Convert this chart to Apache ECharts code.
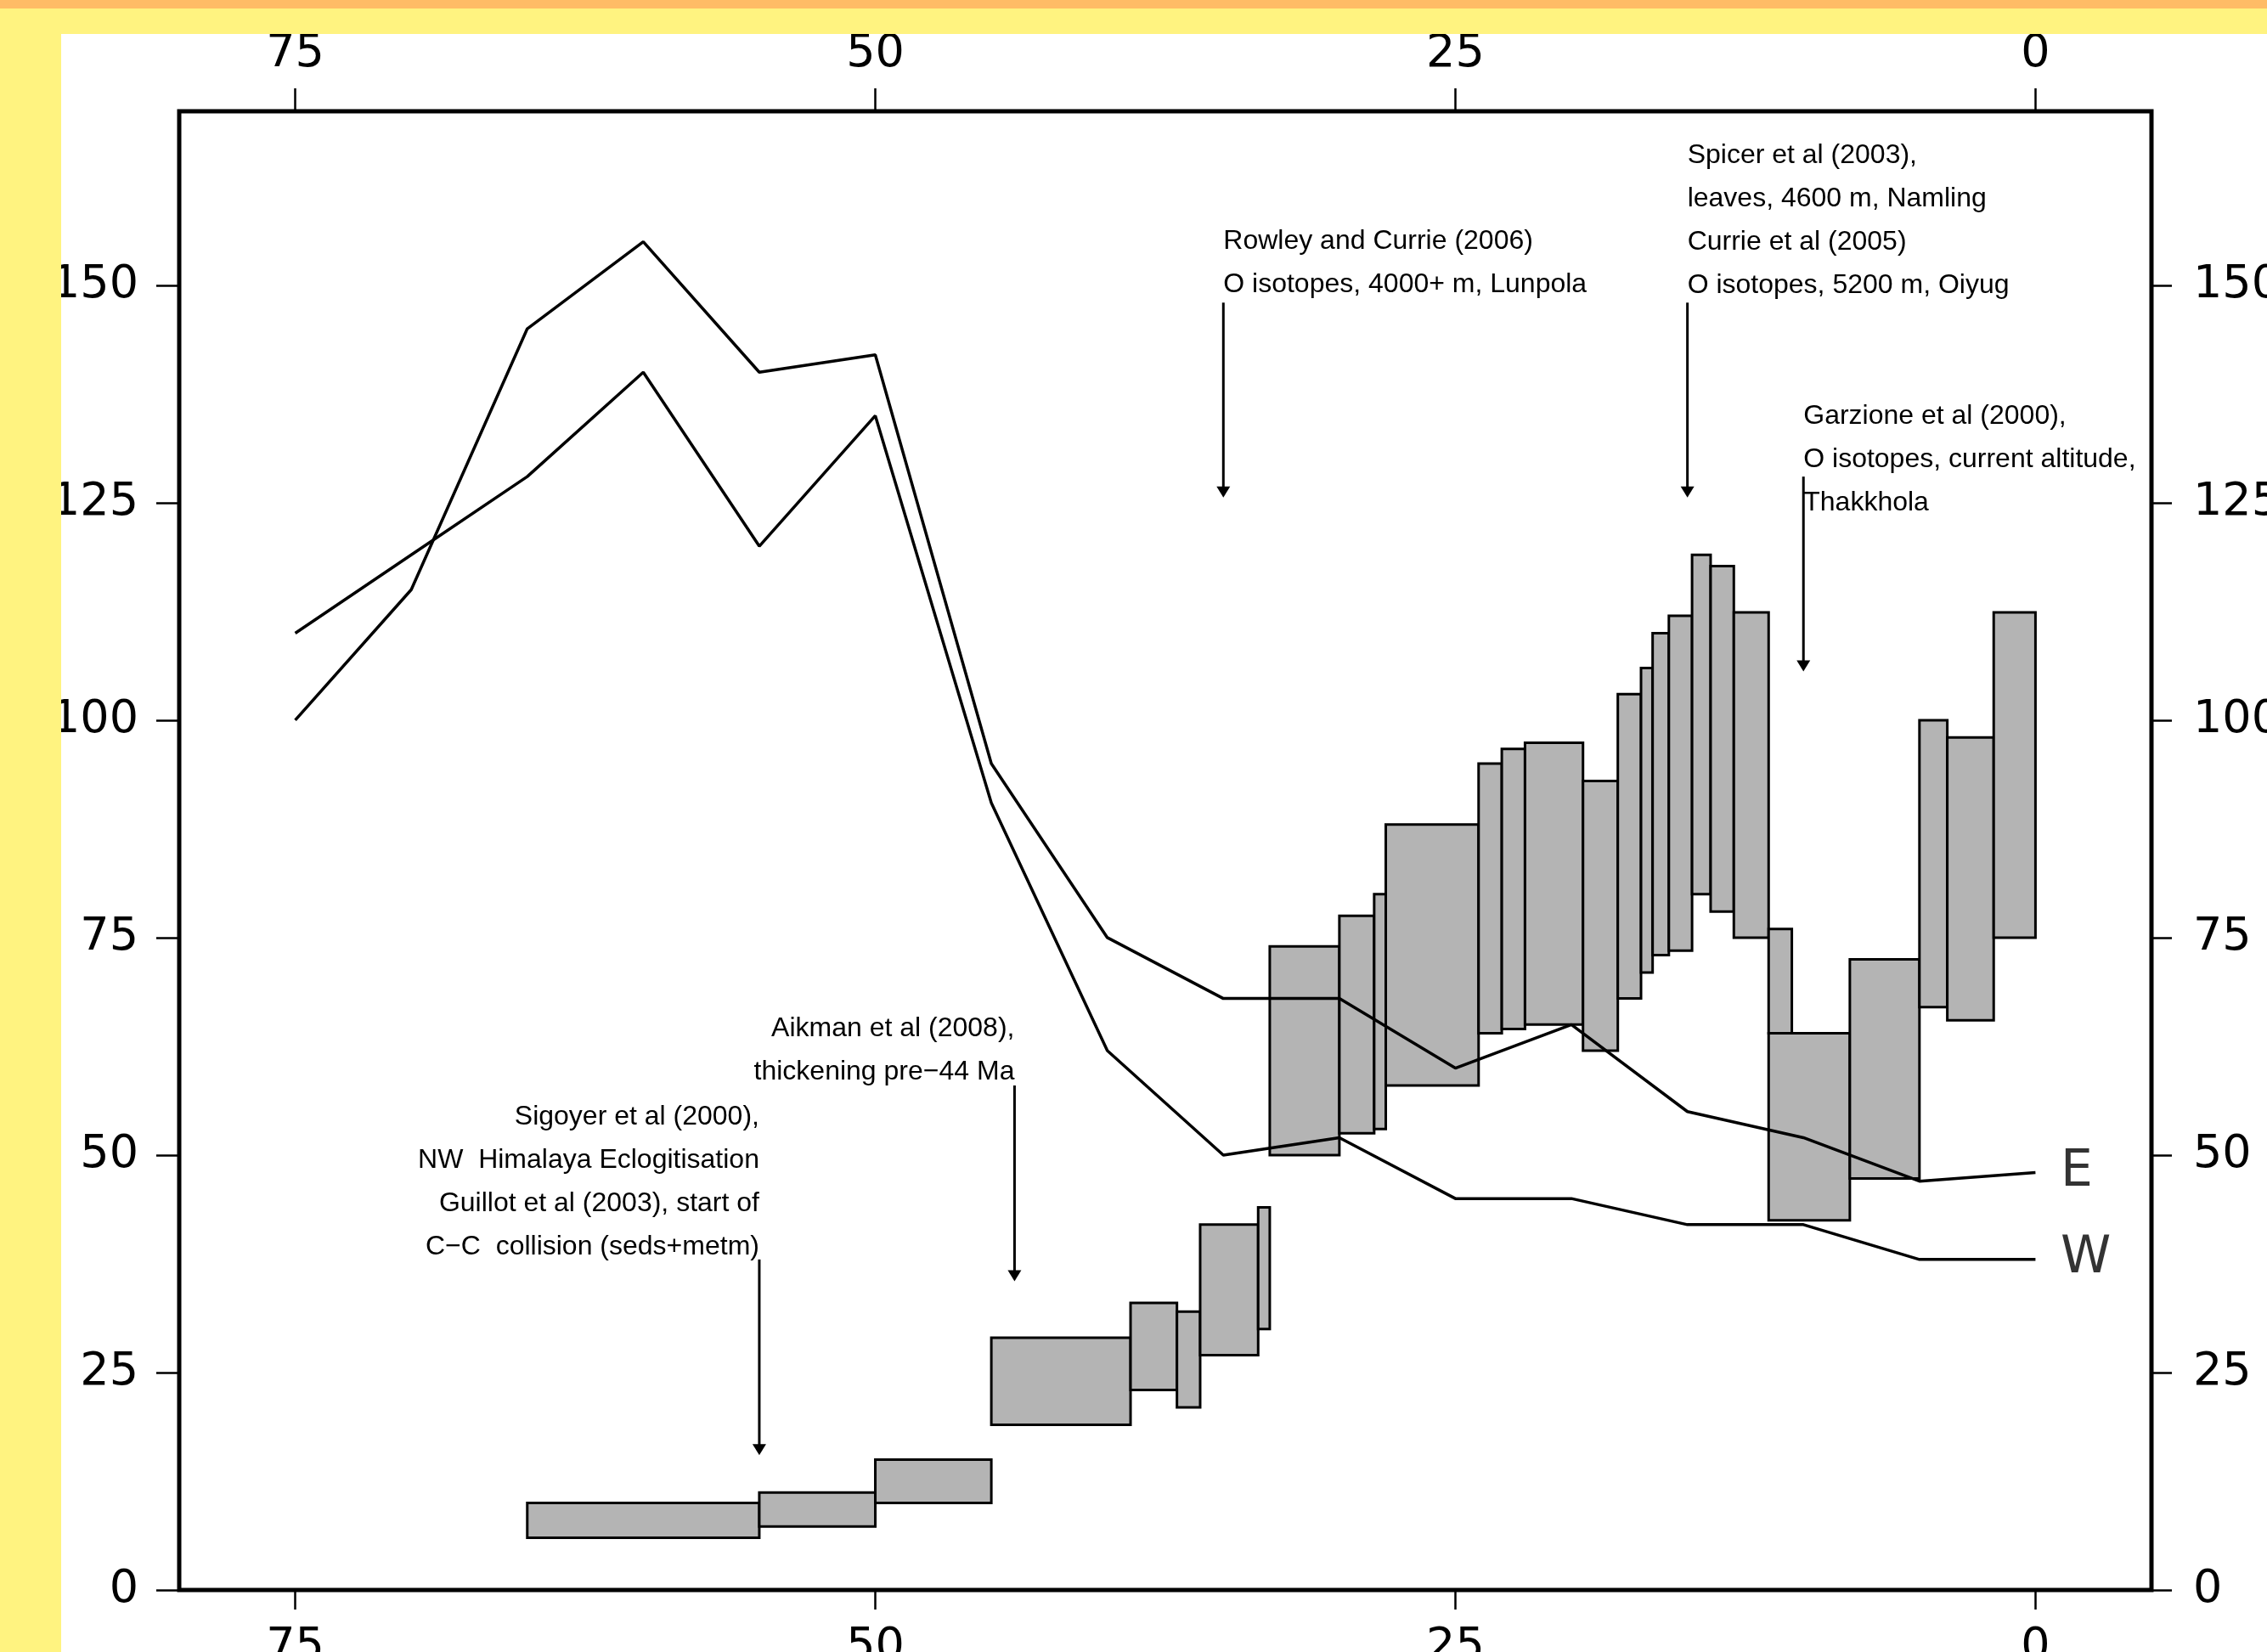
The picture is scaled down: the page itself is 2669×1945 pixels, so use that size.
<!DOCTYPE html>
<html><head><meta charset="utf-8">
<script src="https://cdn.jsdelivr.net/npm/echarts@6/dist/echarts.min.js"></script>
<style>html,body{margin:0;padding:0;background:#fff;overflow:hidden}#c{position:fixed;left:0;top:0;width:2669px;height:1945px}</style>
</head><body><div id="c"></div>
<script>
// ---- data ----
const ageTicks = [0, 25, 50, 75];
const heightTicks = [0, 25, 50, 75, 100, 125, 150];
const lineAges = [75, 70, 65, 60, 55, 50, 45, 40, 35, 30, 25, 20, 15, 10, 5, 0];
const eastValues = [100, 115, 145, 155, 140, 142, 95, 75, 68, 68, 60, 65, 55, 52, 47, 48];
const westValues = [110, 119, 128, 140, 120, 135, 90.5, 62, 50, 52, 45, 45, 42, 42, 38, 38];
const lineNames = ['E', 'W'];
// boxes: [older age, younger age, low, high]
const boxes = [
  [65, 55, 6, 10], [55, 50, 7.3, 11.2], [50, 45, 10, 15], [45, 39, 19, 29],
  [39, 37, 23, 33], [37, 36, 21, 32], [36, 33.5, 27, 42], [33.5, 33, 30, 44],
  [33, 30, 50, 74], [30, 28.5, 52.5, 77.5], [28.5, 28, 53, 80], [28, 24, 58, 88],
  [24, 23, 64, 95], [23, 22, 64.5, 96.7], [22, 19.5, 65, 97.4], [19.5, 18, 62, 93],
  [18, 17, 68, 103], [17, 16.5, 71, 106], [16.5, 15.8, 73, 110], [15.8, 14.8, 73.5, 112],
  [14.8, 14, 80, 119], [14, 13, 78, 117.7], [13, 11.5, 75, 112.4], [11.5, 10.5, 64, 76],
  [11.5, 8, 42.5, 64], [8, 5, 47.3, 72.5], [5, 3.8, 67, 100], [3.8, 1.8, 65.5, 98],
  [1.8, 0, 75, 112.4]
];
// arrows: age, from, to
const arrowAge = [55, 44, 35, 15, 10];
const arrowFrom = [38, 58, 148, 148, 128];
const arrowTo = [15.5, 35.5, 125.6, 125.6, 105.6];
// notes: anchor age, first-line height, alignment, text lines
const noteAge = [55, 44, 35, 15, 10];
const noteTop = [54.4, 64.5, 155, 164.9, 134.9];
const noteAlign = ['right', 'right', 'left', 'left', 'left'];
const noteLines = [
  ['Sigoyer et al (2000),', 'NW  Himalaya Eclogitisation', 'Guillot et al (2003), start of', 'C\u2212C  collision (seds+metm)'],
  ['Aikman et al (2008),', 'thickening pre\u221244 Ma'],
  ['Rowley and Currie (2006)', 'O isotopes, 4000+ m, Lunpola'],
  ['Spicer et al (2003),', 'leaves, 4600 m, Namling', 'Currie et al (2005)', 'O isotopes, 5200 m, Oiyug'],
  ['Garzione et al (2000),', 'O isotopes, current altitude,', 'Thakkhola']
];

// ---- chart ----
const el = document.getElementById('c');
const chart = echarts.init(el, null, {renderer: 'canvas', width: 2669, height: 1945});
const tickFont = {fontSize: 54, fontFamily: 'DejaVu Sans', color: '#000'};
function xAx(pos, len, margin) {
  return {
    type: 'value', position: pos, min: -5, max: 80, inverse: true,
    axisLine: {show: false, onZero: false},
    axisTick: {show: true, customValues: ageTicks, length: len, lineStyle: {color: '#000', width: 2.5}},
    axisLabel: Object.assign({customValues: ageTicks, margin: margin}, tickFont),
    splitLine: {show: false}
  };
}
function yAx(pos, len, margin) {
  return {
    type: 'value', position: pos, min: 0, max: 170,
    axisLine: {show: false, onZero: false},
    axisTick: {show: true, customValues: heightTicks, length: len, lineStyle: {color: '#000', width: 2.5}},
    axisLabel: Object.assign({customValues: heightTicks, margin: margin}, tickFont),
    splitLine: {show: false}
  };
}
const lastI = lineAges.length - 1;
chart.setOption({
  animation: false,
  backgroundColor: '#ffffff',
  grid: {left: 211, right: 136, top: 131, bottom: 73, containLabel: false, outerBoundsMode: 'none', show: true, borderColor: '#000', borderWidth: 5, backgroundColor: 'transparent'},
  xAxis: [xAx('bottom', 23, 41), xAx('top', 27, 40)],
  yAxis: [yAx('left', 27, 48), yAx('right', 24, 49)],
  series: [
    {
      type: 'custom', name: 'ranges', z: 2,
      data: boxes,
      encode: {x: [0, 1], y: [2, 3]},
      renderItem: function (params, api) {
        const p1 = api.coord([api.value(0), api.value(3)]);
        const p2 = api.coord([api.value(1), api.value(2)]);
        return {
          type: 'rect',
          shape: {x: Math.min(p1[0], p2[0]), y: Math.min(p1[1], p2[1]), width: Math.abs(p2[0] - p1[0]), height: Math.abs(p2[1] - p1[1])},
          style: {fill: '#b4b4b4', stroke: '#000', lineWidth: 3}
        };
      }
    },
    {
      type: 'line', name: 'E', z: 5, symbol: 'none',
      data: lineAges.map((a, i) => [a, eastValues[i]]),
      lineStyle: {color: '#000', width: 3.5}
    },
    {
      type: 'line', name: 'W', z: 5, symbol: 'none',
      data: lineAges.map((a, i) => [a, westValues[i]]),
      lineStyle: {color: '#000', width: 3.5}
    },
    {
      type: 'scatter', name: 'labels', z: 6, symbolSize: 1,
      itemStyle: {color: 'rgba(0,0,0,0)'},
      data: [
        {name: lineNames[0], value: [lineAges[lastI], eastValues[lastI]]},
        {name: lineNames[1], value: [lineAges[lastI], westValues[lastI]]}
      ],
      label: {show: true, position: 'right', distance: 29, formatter: '{b}', fontSize: 60, fontFamily: 'DejaVu Sans', color: '#000'}
    },
    {
      type: 'custom', name: 'arrows', z: 6,
      data: arrowAge.map((a, i) => [a, arrowFrom[i], arrowTo[i]]),
      encode: {x: 0, y: [1, 2]},
      renderItem: function (params, api) {
        const x = api.value(0);
        const a = api.coord([x, api.value(1)]);
        const b = api.coord([x, api.value(2)]);
        return {
          type: 'group', children: [
            {type: 'line', shape: {x1: a[0], y1: a[1], x2: b[0], y2: b[1] - 8}, style: {stroke: '#000', lineWidth: 3}},
            {type: 'polygon', shape: {points: [[b[0] - 8, b[1] - 13], [b[0] + 8, b[1] - 13], [b[0], b[1]]]}, style: {fill: '#000'}}
          ]
        };
      }
    },
    {
      type: 'custom', name: 'notes', z: 6,
      data: noteAge.map((a, i) => [a, noteTop[i]]),
      encode: {x: 0, y: 1},
      renderItem: function (params, api) {
        const i = params.dataIndex;
        const p = api.coord([api.value(0), api.value(1)]);
        return {
          type: 'text', x: p[0], y: p[1] - 25.5,
          style: {text: noteLines[i].join('\n'), fontFamily: 'Liberation Sans', fontSize: 32, lineHeight: 51, fill: '#000', align: noteAlign[i], verticalAlign: 'top'}
        };
      }
    }
  ],
  graphic: {elements: [
    {type: 'rect', left: 0, top: 0, z: 100, shape: {width: 72, height: 1945}, style: {fill: '#fff380'}},
    {type: 'rect', left: 0, top: 0, z: 100, shape: {width: 2669, height: 40}, style: {fill: '#fff380'}},
    {type: 'rect', left: 0, top: 0, z: 101, shape: {width: 2669, height: 10}, style: {fill: '#ffbc66'}}
  ]}
});
</script></body></html>
